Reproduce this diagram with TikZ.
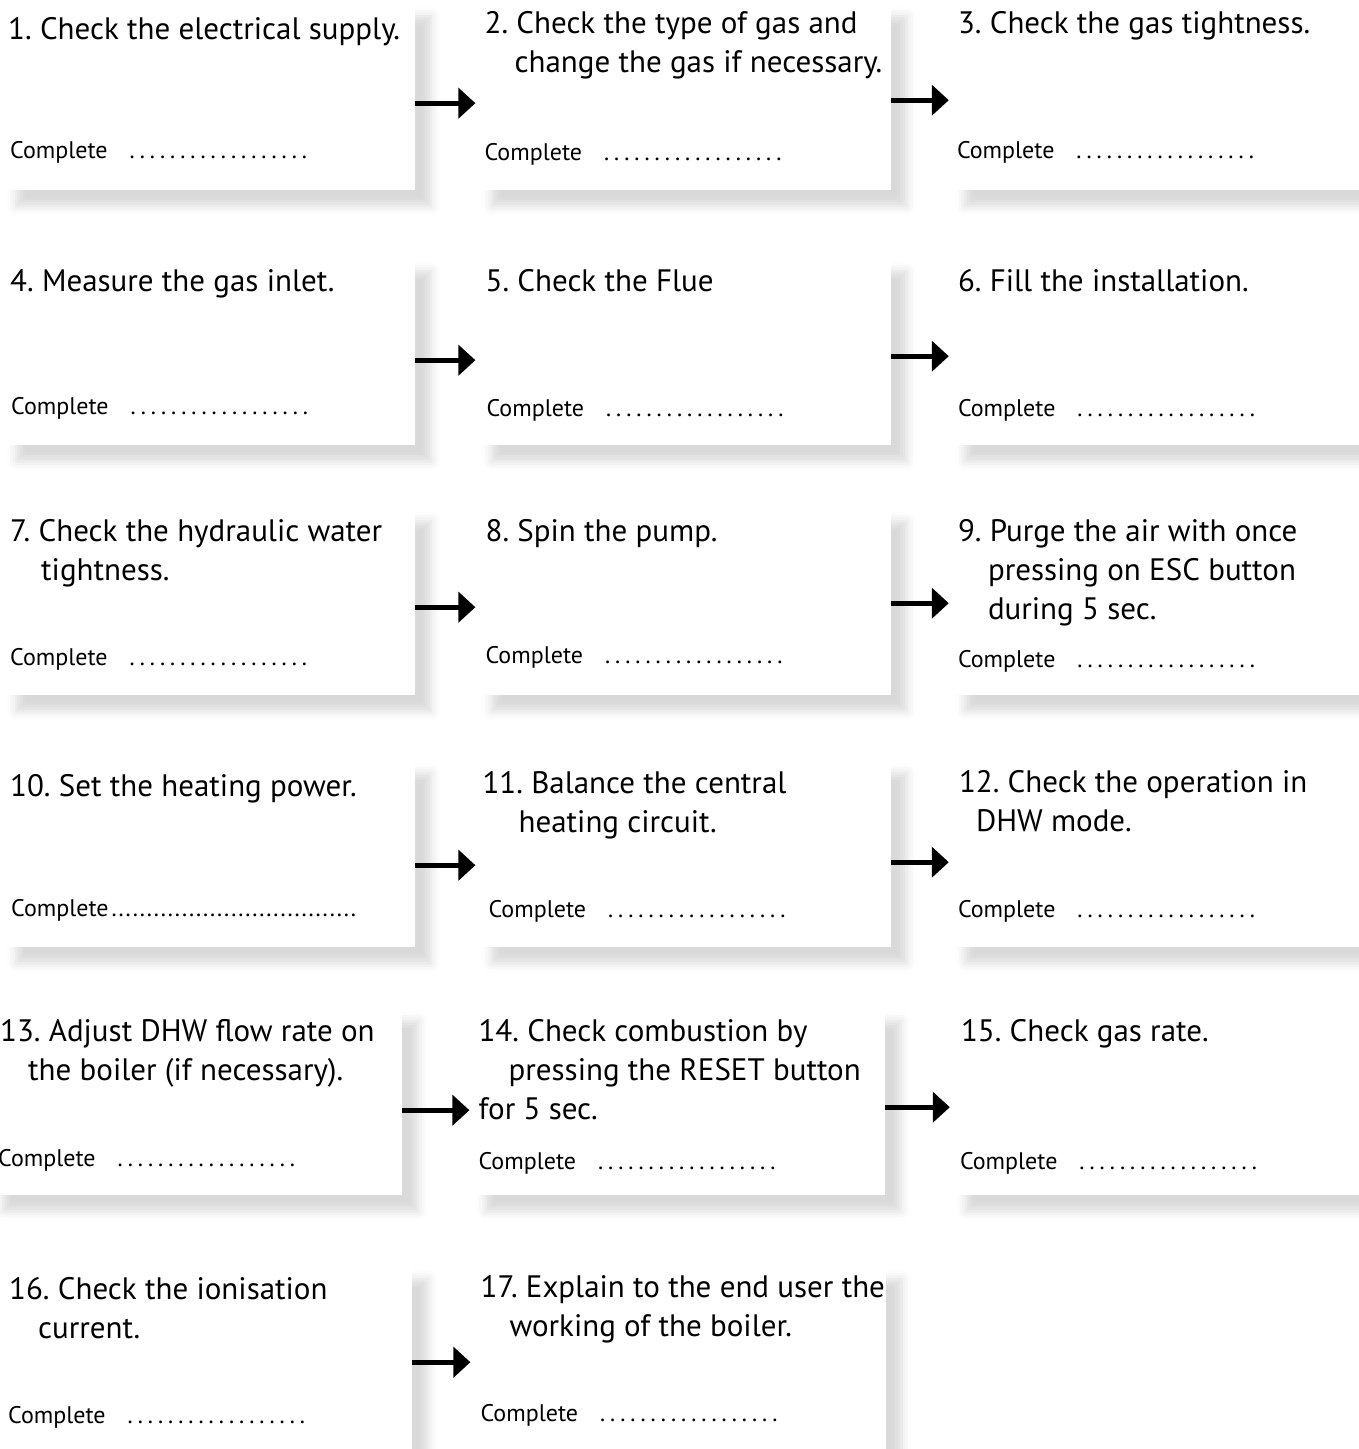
\documentclass[tikz,border=0pt]{standalone}
\usepackage{fontspec}
\setmainfont{PT Sans}
\usetikzlibrary{arrows.meta,positioning,shadows.blur}
\tikzset{box/.style={rectangle,fill=white,minimum width=415pt,minimum height=190pt,inner sep=0pt,anchor=north west,blur shadow={shadow xshift=16pt,shadow yshift=-16pt,shadow blur radius=9pt,shadow opacity=15}}, steptitle/.style={anchor=base west,inner sep=0pt,font=\fontsize{31}{39}\selectfont}, tick/.style={anchor=base west,inner sep=0pt,font=\fontsize{24}{28}\selectfont}, arrow/.style={-{Triangle[length=17pt,width=30pt]},line width=5pt,draw=black}}
\newcommand{\lines}[1]{\begin{tabular}[t]{@{}l@{}}#1\end{tabular}}
\newcommand{\ind}[1]{\hspace*{#1pt}}
\newcommand{\donerow}[3]{Complete\hspace{#1pt}\foreach \k in {1,...,#2}{.\hspace{#3pt}}}
\frenchspacing

\begin{document}
\begin{tikzpicture}[x=1pt,y=1pt,node distance=60pt]
\useasboundingbox (0,0) rectangle (1358,-1449);
% boxes, row by row
\node[box] (b1) at (0,0) {};\node[box,right=of b1] (b2) {};\node[box,right=58pt of b2] (b3) {};
\node[box] (b4) at (0,-255) {};\node[box,right=of b4] (b5) {};\node[box,right=58pt of b5] (b6) {};
\node[box] (b7) at (0,-505) {};\node[box,right=of b7] (b8) {};\node[box,right=58pt of b8] (b9) {};
\node[box] (b10) at (0,-757) {};\node[box,right=of b10] (b11) {};\node[box,right=58pt of b11] (b12) {};
\node[box] (b13) at (-13,-1005) {};\node[box,right=67pt of b13] (b14) {};\node[box,right=65pt of b14] (b15) {};
\node[box] (b16) at (-3,-1263) {};\node[box,right=58pt of b16] (b17) {};
% step texts
\node[steptitle] (t1) at ([shift={(8,-39)}]b1.north west) {\lines{1. Check the electrical supply.}};
\node[steptitle] (t2) at ([shift={(9,-33)}]b2.north west) {\lines{2. Check the type of gas and\\\ind{30}change the gas if necessary.}};
\node[steptitle] (t3) at ([shift={(9,-33)}]b3.north west) {\lines{3. Check the gas tightness.}};
\node[steptitle] (t4) at ([shift={(10,-36)}]b4.north west) {\lines{4. Measure the gas inlet.}};
\node[steptitle] (t5) at ([shift={(10,-36)}]b5.north west) {\lines{5. Check the Flue}};
\node[steptitle] (t6) at ([shift={(9,-36)}]b6.north west) {\lines{6. Fill the installation.}};
\node[steptitle] (t7) at ([shift={(10,-36)}]b7.north west) {\lines{7. Check the hydraulic water\\\ind{31}tightness.}};
\node[steptitle] (t8) at ([shift={(10,-36)}]b8.north west) {\lines{8. Spin the pump.}};
\node[steptitle] (t9) at ([shift={(9,-36)}]b9.north west) {\lines{9. Purge the air with once\\\ind{30}pressing on ESC button\\\ind{30}during 5 sec.}};
\node[steptitle] (t10) at ([shift={(10,-39)}]b10.north west) {\lines{10. Set the heating power.}};
\node[steptitle] (t11) at ([shift={(7,-36)}]b11.north west) {\lines{11. Balance the central\\\ind{36}heating circuit.}};
\node[steptitle] (t12) at ([shift={(10,-35)}]b12.north west) {\lines{12. Check the operation in\\\ind{17}DHW mode.}};
\node[steptitle] (t13) at ([shift={(13,-36)}]b13.north west) {\lines{13. Adjust DHW flow rate on\\\ind{28}the boiler (if necessary).}};
\node[steptitle] (t14) at ([shift={(9,-36)}]b14.north west) {\lines{14. Check combustion by\\\ind{30}pressing the RESET button\\for 5 sec.}};
\node[steptitle] (t15) at ([shift={(11,-36)}]b15.north west) {\lines{15. Check gas rate.}};
\node[steptitle] (t16) at ([shift={(12,-36)}]b16.north west) {\lines{16. Check the ionisation\\\ind{29}current.}};
\node[steptitle] (t17) at ([shift={(10,-34)}]b17.north west) {\lines{17. Explain to the end user the\\\ind{29}working of the boiler.}};
% completion lines
\node[tick] (c1) at ([shift={(10,-158)}]b1.north west) {\donerow{22}{18}{5}};
\node[tick] (c2) at ([shift={(9,-160)}]b2.north west) {\donerow{22}{18}{5}};
\node[tick] (c3) at ([shift={(8,-158)}]b3.north west) {\donerow{22}{18}{5}};
\node[tick] (c4) at ([shift={(11,-159)}]b4.north west) {\donerow{22}{18}{5}};
\node[tick] (c5) at ([shift={(11,-161)}]b5.north west) {\donerow{22}{18}{5}};
\node[tick] (c6) at ([shift={(9,-161)}]b6.north west) {\donerow{22}{18}{5}};
\node[tick] (c7) at ([shift={(10,-160)}]b7.north west) {\donerow{22}{18}{5}};
\node[tick] (c8) at ([shift={(10,-158)}]b8.north west) {\donerow{22}{18}{5}};
\node[tick] (c9) at ([shift={(9,-162)}]b9.north west) {\donerow{22}{18}{5}};
\node[tick] (c10) at ([shift={(11,-159)}]b10.north west) {\donerow{3}{35}{1.9}};
\node[tick] (c11) at ([shift={(13,-160)}]b11.north west) {\donerow{22}{18}{5}};
\node[tick] (c12) at ([shift={(9,-160)}]b12.north west) {\donerow{22}{18}{5}};
\node[tick] (c13) at ([shift={(11,-161)}]b13.north west) {\donerow{22}{18}{5}};
\node[tick] (c14) at ([shift={(9,-164)}]b14.north west) {\donerow{22}{18}{5}};
\node[tick] (c15) at ([shift={(10,-164)}]b15.north west) {\donerow{22}{18}{5}};
\node[tick] (c16) at ([shift={(11,-160)}]b16.north west) {\donerow{22}{18}{5}};
\node[tick] (c17) at ([shift={(10,-158)}]b17.north west) {\donerow{22}{18}{5}};
% arrows
\draw[arrow] ([yshift=-8pt]b1.east)--([yshift=-8pt]b2.west);\draw[arrow] ([yshift=-5pt]b2.east)--([yshift=-5pt]b3.west);
\draw[arrow] ([yshift=-10pt]b4.east)--([yshift=-10pt]b5.west);\draw[arrow] ([yshift=-6pt]b5.east)--([yshift=-6pt]b6.west);
\draw[arrow] ([yshift=-7pt]b7.east)--([yshift=-7pt]b8.west);\draw[arrow] ([yshift=-3pt]b8.east)--([yshift=-3pt]b9.west);
\draw[arrow] ([yshift=-13pt]b10.east)--([yshift=-13pt]b11.west);\draw[arrow] ([yshift=-10pt]b11.east)--([yshift=-10pt]b12.west);
\draw[arrow] ([yshift=-10pt]b13.east)--([yshift=-10pt]b14.west);\draw[arrow] ([yshift=-7pt]b14.east)--([yshift=-7pt]b15.west);
\draw[arrow] ([yshift=-4pt]b16.east)--([yshift=-4pt]b17.west);
\end{tikzpicture}
\end{document}
